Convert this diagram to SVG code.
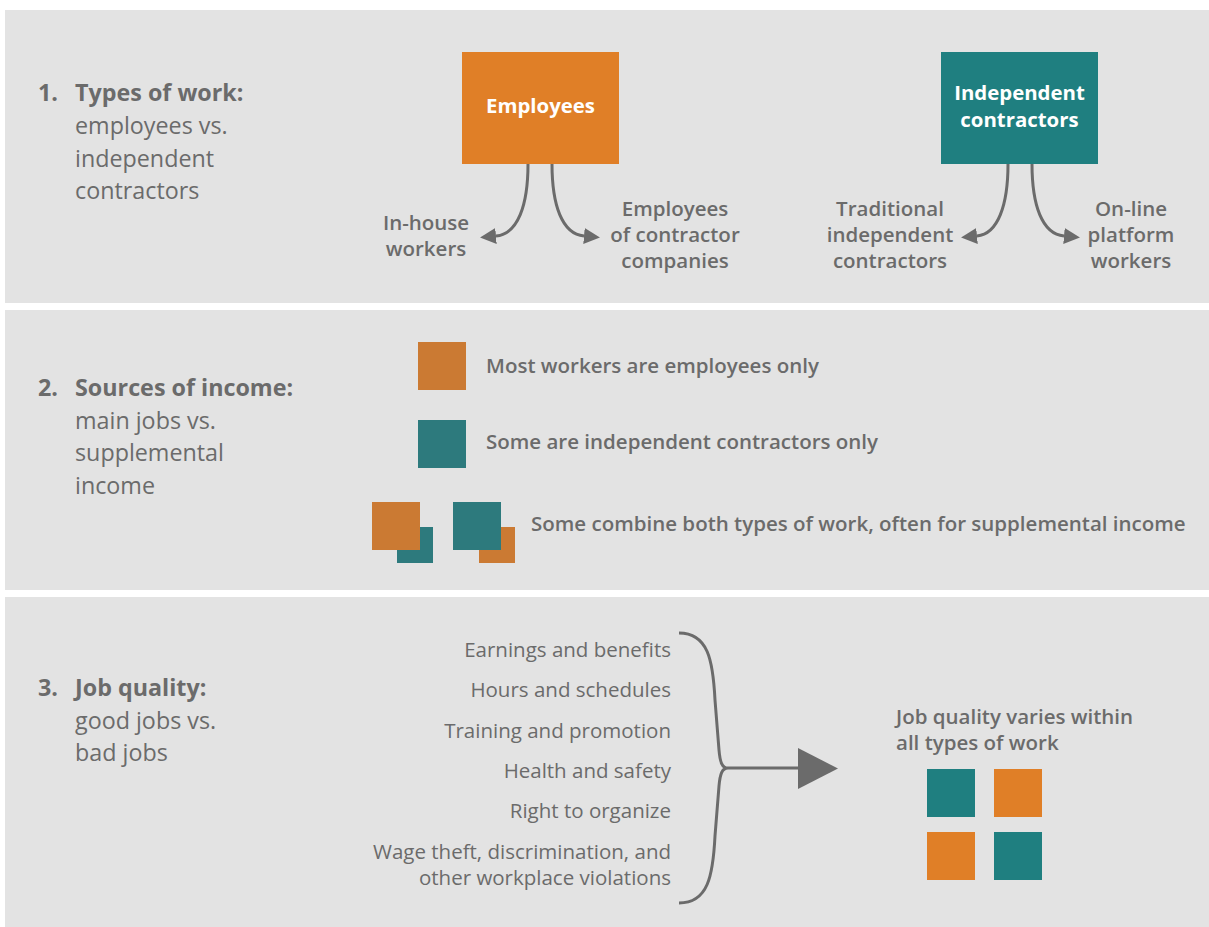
<svg xmlns="http://www.w3.org/2000/svg" width="1209" height="927" viewBox="0 0 1209 927">
  <style>
    .panel { fill: #e3e3e3; }
    .head { font-family: "Open Sans", "Noto Sans", sans-serif; font-size: 23.3px; fill: #6b6b6b; }
    .headb { font-weight: 700; }
    .lbl { font-family: "Open Sans", "Noto Sans", sans-serif; font-size: 20.5px; font-weight: 600; fill: #6b6b6b; }
    .item { font-family: "Open Sans", "Noto Sans", sans-serif; font-size: 20.5px; fill: #6b6b6b; }
    .boxtxt { font-family: "Open Sans", "Noto Sans", sans-serif; font-size: 20.4px; font-weight: 700; fill: #ffffff; }
    .conn { fill: none; stroke: #6b6b6b; stroke-width: 3; }
    .orange { fill: #e07f27; }
    .teal { fill: #1f7f80; }
    .orange2 { fill: #cb7a33; }
    .teal2 { fill: #2d7a7d; }
  </style>
  <defs>
    <marker id="arrow" markerUnits="userSpaceOnUse" markerWidth="16" markerHeight="16" refX="0" refY="8" orient="auto">
      <path d="M0,0 L16,8 L0,16 z" fill="#6b6b6b"/>
    </marker>
  </defs>

  <rect width="1209" height="927" fill="#ffffff"/>

  <!-- panels -->
  <rect class="panel" x="5" y="10" width="1204" height="293"/>
  <rect class="panel" x="5" y="310" width="1204" height="280"/>
  <rect class="panel" x="5" y="597" width="1204" height="330"/>

  <!-- section headings -->
  <g id="heading-1">
    <text class="head headb" x="38" y="101">1.</text>
    <text class="head headb" x="75" y="101">Types of work:</text>
    <text class="head" x="75" y="134">employees vs.</text>
    <text class="head" x="75" y="167">independent</text>
    <text class="head" x="75" y="199">contractors</text>
  </g>
  <g id="heading-2">
    <text class="head headb" x="38" y="396">2.</text>
    <text class="head headb" x="75" y="396">Sources of income:</text>
    <text class="head" x="75" y="429">main jobs vs.</text>
    <text class="head" x="75" y="461">supplemental</text>
    <text class="head" x="75" y="494">income</text>
  </g>
  <g id="heading-3">
    <text class="head headb" x="38" y="696">3.</text>
    <text class="head headb" x="75" y="696">Job quality:</text>
    <text class="head" x="75" y="729">good jobs vs.</text>
    <text class="head" x="75" y="761">bad jobs</text>
  </g>

  <!-- section 1 nodes -->
  <g id="employees">
    <rect class="orange" x="462" y="52" width="157" height="112"/>
    <text class="boxtxt" x="540.5" y="113" text-anchor="middle">Employees</text>
  </g>
  <g id="independent-contractors">
    <rect class="teal" x="941" y="52" width="157" height="112"/>
    <text class="boxtxt" x="1019.5" y="99.5" text-anchor="middle">Independent</text>
    <text class="boxtxt" x="1019.5" y="127" text-anchor="middle">contractors</text>
  </g>
  <g id="in-house-workers">
    <text class="lbl" x="426" y="230" text-anchor="middle">In-house</text>
    <text class="lbl" x="426" y="256" text-anchor="middle">workers</text>
  </g>
  <g id="contractor-company-employees">
    <text class="lbl" x="675" y="216" text-anchor="middle">Employees</text>
    <text class="lbl" x="675" y="242" text-anchor="middle">of contractor</text>
    <text class="lbl" x="675" y="268" text-anchor="middle">companies</text>
  </g>
  <g id="traditional-contractors">
    <text class="lbl" x="890" y="216" text-anchor="middle">Traditional</text>
    <text class="lbl" x="890" y="242" text-anchor="middle">independent</text>
    <text class="lbl" x="890" y="268" text-anchor="middle">contractors</text>
  </g>
  <g id="platform-workers">
    <text class="lbl" x="1131" y="216" text-anchor="middle">On-line</text>
    <text class="lbl" x="1131" y="242" text-anchor="middle">platform</text>
    <text class="lbl" x="1131" y="268" text-anchor="middle">workers</text>
  </g>

  <!-- section 2 -->
  <g id="employees-only">
    <rect class="orange2" x="418" y="342" width="48" height="48"/>
    <text class="lbl" x="486" y="373">Most workers are employees only</text>
  </g>
  <g id="contractors-only">
    <rect class="teal2" x="418" y="420" width="48" height="48"/>
    <text class="lbl" x="486" y="449">Some are independent contractors only</text>
  </g>
  <g id="combined-work">
    <rect class="teal2" x="397" y="527" width="36" height="36"/>
    <rect class="orange2" x="372" y="502" width="48" height="48"/>
    <rect class="orange2" x="479" y="527" width="36" height="36"/>
    <rect class="teal2" x="453" y="502" width="48" height="48"/>
    <text class="lbl" x="531" y="531">Some combine both types of work, often for supplemental income</text>
  </g>

  <!-- section 3 -->
  <g id="quality-factors">
    <text class="item" x="671" y="657" text-anchor="end">Earnings and benefits</text>
    <text class="item" x="671" y="697" text-anchor="end">Hours and schedules</text>
    <text class="item" x="671" y="738" text-anchor="end">Training and promotion</text>
    <text class="item" x="671" y="778" text-anchor="end">Health and safety</text>
    <text class="item" x="671" y="818" text-anchor="end">Right to organize</text>
    <text class="item" x="671" y="859" text-anchor="end">Wage theft, discrimination, and</text>
    <text class="item" x="671" y="885" text-anchor="end">other workplace violations</text>
  </g>
  <g id="quality-varies">
    <text class="lbl" x="896" y="724">Job quality varies within</text>
    <text class="lbl" x="896" y="750">all types of work</text>
    <rect class="teal" x="927" y="769" width="48" height="48"/>
    <rect class="orange" x="994" y="769" width="48" height="48"/>
    <rect class="orange" x="927" y="832" width="48" height="48"/>
    <rect class="teal" x="994" y="832" width="48" height="48"/>
  </g>

  <!-- connectors -->
  <g id="connectors">
    <path class="conn" d="M528,164 C528,205 518,234 496,236" marker-end="url(#arrow)"/>
    <path class="conn" d="M552,164 C552,205 562,234 584,236" marker-end="url(#arrow)"/>
    <path class="conn" d="M1008,164 C1008,205 998,234 977,236" marker-end="url(#arrow)"/>
    <path class="conn" d="M1032,164 C1032,205 1042,234 1064,236" marker-end="url(#arrow)"/>
    <path class="conn" stroke-width="2.5" d="M679,633 C708,633 713,660 715,700 L719,750 C720,762 722,768 728,768 M679,903 C708,903 713,876 715,836 L719,786 C720,774 722,768 728,768 L800,768"/>
    <polygon points="798,748 838,768.5 798,789" fill="#6b6b6b"/>
  </g>
</svg>
